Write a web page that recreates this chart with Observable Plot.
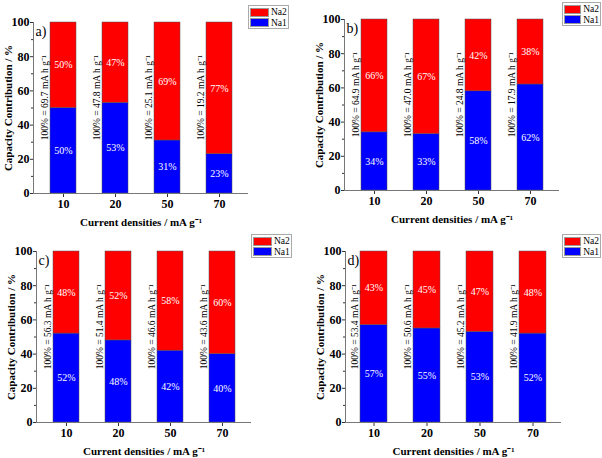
<!DOCTYPE html>
<html>
<head>
<meta charset="utf-8">
<script src="https://cdn.jsdelivr.net/npm/d3@7"></script>
<script src="https://cdn.jsdelivr.net/npm/@observablehq/plot@0.6"></script>
<style>
  body { margin: 0; background: white; }
  #wrap { position: relative; width: 602px; height: 458px; background: white; font-family: "Liberation Serif", "Times New Roman", serif; }
  .panel { position: absolute; }
  .legend { position: absolute; border: 1px solid #aaa; background: white; padding: 1px; box-sizing: border-box; font-family: "Liberation Serif", "Times New Roman", serif; font-size: 9.5px; }
  .legend .row { display: flex; align-items: center; height: 10.5px; }
  .legend .sw { width: 19px; height: 9px; box-sizing: border-box; border: 1px solid #999; margin-right: 2px; }
</style>
</head>
<body>
<div id="wrap"></div>
<script>
const categories = ["10", "20", "50", "70"];
const seriesNames = ["Na1", "Na2"];
const seriesColors = ["#0000ff", "#ff0000"];
const yTicks = [0, 20, 40, 60, 80, 100];
const yMinorTicks = [10, 30, 50, 70, 90];

const panelLabels = ["a)", "b)", "c)", "d)"];
const na1A = [50, 53, 31, 23];
const na2A = [50, 47, 69, 77];
const totalA = ["69.7", "47.8", "25.1", "19.2"];
const na1B = [34, 33, 58, 62];
const na2B = [66, 67, 42, 38];
const totalB = ["64.9", "47.0", "24.8", "17.9"];
const na1C = [52, 48, 42, 40];
const na2C = [48, 52, 58, 60];
const totalC = ["56.3", "51.4", "46.6", "43.6"];
const na1D = [57, 55, 53, 52];
const na2D = [43, 45, 47, 48];
const totalD = ["53.4", "50.6", "45.2", "41.9"];

const yLabel = "Capacity Contribution / %";
const xLabel = "Current densities / mA g\u207B\u00B9";

const panels = [
  {label: panelLabels[0], na1: na1A, na2: na2A, total: totalA, left: 0, top: 0, m: [22, 53, 36, 33], legend: [248, 5, 41, 24]},
  {label: panelLabels[1], na1: na1B, na2: na2B, total: totalB, left: 301, top: 0, m: [19, 43, 39, 43], legend: [562, 2, 39, 24]},
  {label: panelLabels[2], na1: na1C, na2: na2C, total: totalC, left: 0, top: 229, m: [22, 50, 36, 36], legend: [251, 234, 41, 24]},
  {label: panelLabels[3], na1: na1D, na2: na2D, total: totalD, left: 301, top: 229, m: [22, 41, 36, 44], legend: [562, 234, 39, 24]}
];

const font = "'Liberation Serif', 'Times New Roman', serif";
const wrap = document.getElementById("wrap");

for (const p of panels) {
  const data = categories.flatMap((c, i) => [
    {cat: c, series: "Na1", value: p.na1[i]},
    {cat: c, series: "Na2", value: p.na2[i]}
  ]);
  const totals = categories.map((c, i) => ({cat: c, total: p.total[i]}));
  const chart = Plot.plot({
    width: 301,
    height: 229,
    marginTop: p.m[0],
    marginRight: p.m[1],
    marginBottom: p.m[2],
    marginLeft: p.m[3],
    style: {fontFamily: font, background: "white", overflow: "visible"},
    x: {domain: categories, paddingInner: 0.5, paddingOuter: 0.28, axis: null},
    y: {domain: [0, 100], axis: null},
    color: {domain: seriesNames, range: seriesColors},
    marks: [
      Plot.barY(data, Plot.stackY({x: "cat", y: "value", fill: "series", stroke: "#555", strokeWidth: 0.5})),
      Plot.text(data, Plot.stackY({x: "cat", y: "value", text: d => d.value + "%", fill: "white", fontSize: 10, fontFamily: font})),
      Plot.text(totals, {x: "cat", y: () => 56, text: d => `100% = ${d.total} mA h g\u207B\u00B9`, rotate: -90, dx: -19, textAnchor: "middle", fontSize: 9.5, fill: "black", fontFamily: font}),
      Plot.axisX({tickSize: 4, tickPadding: 2, fontSize: 12, fontWeight: "bold", label: null, stroke: "#333", fontFamily: font}),
      Plot.axisY({ticks: yTicks, tickSize: 3, tickPadding: 1, fontSize: 12, fontWeight: "bold", label: null, stroke: "#333", fontFamily: font}),
      Plot.axisY({ticks: yMinorTicks, tickSize: 2, tickFormat: () => "", label: null, stroke: "#333"}),
      Plot.ruleY([0], {stroke: "#777"}),
      Plot.frame({anchor: "left", stroke: "#777"}),
      Plot.text([yLabel], {frameAnchor: "left", rotate: -90, dx: -25.5, textAnchor: "middle", lineAnchor: "middle", fontWeight: "bold", fontSize: 11, fill: "black", fontFamily: font}),
      Plot.text([xLabel], {frameAnchor: "bottom", dy: 29, textAnchor: "middle", lineAnchor: "middle", fontWeight: "bold", fontSize: 11, fill: "black", fontFamily: font}),
      Plot.text([p.label], {frameAnchor: "top-left", dx: 2, dy: 4, textAnchor: "start", lineAnchor: "top", fontSize: 14, fill: "black", fontFamily: font})
    ]
  });
  const div = document.createElement("div");
  div.className = "panel";
  div.style.left = p.left + "px";
  div.style.top = p.top + "px";
  div.appendChild(chart);
  wrap.appendChild(div);

  const lg = document.createElement("div");
  lg.className = "legend";
  lg.style.left = p.legend[0] + "px";
  lg.style.top = p.legend[1] + "px";
  lg.style.width = p.legend[2] + "px";
  lg.style.height = p.legend[3] + "px";
  for (let k = seriesNames.length - 1; k >= 0; k--) {
    const row = document.createElement("div");
    row.className = "row";
    const sw = document.createElement("div");
    sw.className = "sw";
    sw.style.background = seriesColors[k];
    const t = document.createElement("span");
    t.textContent = seriesNames[k];
    row.appendChild(sw);
    row.appendChild(t);
    lg.appendChild(row);
  }
  wrap.appendChild(lg);
}
</script>
</body>
</html>
